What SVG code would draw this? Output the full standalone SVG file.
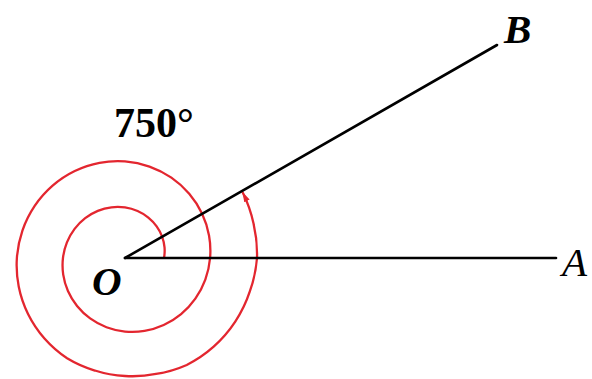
<svg xmlns="http://www.w3.org/2000/svg" width="592" height="379" viewBox="0 0 592 379">
<style>
.ray{stroke:#000;stroke-width:2.6;fill:none;stroke-linecap:round}
.spiral{stroke:#e3262f;stroke-width:2.3;fill:none;stroke-linejoin:round}
.lbl{font-family:"Liberation Serif","Times New Roman",serif;font-style:italic;font-weight:bold;font-size:41px;fill:#000}
.ang{font-family:"Liberation Serif","Times New Roman",serif;font-weight:bold;font-size:42px;fill:#000}
</style>
<defs>
<marker id="arr" markerUnits="userSpaceOnUse" markerWidth="12" markerHeight="8" refX="10" refY="3" orient="auto">
<path d="M0,0 L10,3 L0,6 z" fill="#e3262f"/>
</marker>
</defs>
<rect width="592" height="379" fill="#fff"/>
<g id="spiral">
<path class="spiral" marker-end="url(#arr)" d="M164,258 A40 40 0 0 0 164.53,247.41 A41.88 41.88 0 0 0 162.1,236.58 A43.8 43.8 0 0 0 156.65,226.35 A45.72 45.72 0 0 0 148.34,217.57 A47.64 47.64 0 0 0 137.58,211.06 A49.56 49.56 0 0 0 125,207.48 A51.48 51.48 0 0 0 111.43,207.35 A53.4 53.4 0 0 0 97.82,210.92 A55.32 55.32 0 0 0 85.2,218.2 A57.24 57.24 0 0 0 74.6,228.9 A59.16 59.16 0 0 0 66.93,242.44 A61.08 61.08 0 0 0 62.96,258 A63 63 0 0 0 63.22,274.55 A64.92 64.92 0 0 0 67.95,290.94 A66.84 66.84 0 0 0 77.06,305.94 A68.76 68.76 0 0 0 90.14,318.38 A70.68 70.68 0 0 0 106.46,327.2 A72.6 72.6 0 0 0 125,331.56 A74.52 74.52 0 0 0 144.53,330.91 A76.44 76.44 0 0 0 163.7,325.03 A78.36 78.36 0 0 0 181.09,314.09 A80.28 80.28 0 0 0 195.35,298.62 A82.2 82.2 0 0 0 205.32,279.52 A84.12 84.12 0 0 0 210.08,258 A86.04 86.04 0 0 0 209.03,235.48 A87.96 87.96 0 0 0 202,213.54 A89.88 89.88 0 0 0 189.23,193.77 A91.8 91.8 0 0 0 171.38,177.67 A93.72 93.72 0 0 0 149.5,166.55 A95.64 95.64 0 0 0 125,161.4 A97.56 97.56 0 0 0 99.5,162.84 A99.48 99.48 0 0 0 74.78,171.02 A101.4 101.4 0 0 0 52.62,185.62 A103.32 103.32 0 0 0 34.69,205.86 A105.24 105.24 0 0 0 22.42,230.52 A107.16 107.16 0 0 0 16.88,258 A109.08 109.08 0 0 0 18.71,286.48 A111 111 0 0 0 28.04,313.98 A112.92 112.92 0 0 0 44.48,338.52 A114.84 114.84 0 0 0 67.1,358.28 A116 116 0 0 0 94.85,370.53 A117.2 117.2 0 0 0 125,376 A119 119 0 0 0 156.06,373.91 A121.7 121.7 0 0 0 186.74,364.93 A124.4 124.4 0 0 0 213.67,346.67 A126.4 126.4 0 0 0 235.26,321.66 A128.3 128.3 0 0 0 249.83,291.45 A130.5 130.5 0 0 0 257,258 A132.5 132.5 0 0 0 253.54,223.56 A134 134 0 0 0 242.5,192"/>
</g>
<g id="connectors">
<line id="OA" class="ray" x1="125" y1="258" x2="556" y2="258"/>
<line id="OB" class="ray" x1="125" y1="258" x2="497" y2="45"/>
</g>
<g id="O"><text class="lbl" x="92" y="295">O</text></g>
<g id="A"><text class="lbl" x="562" y="276" style="font-weight:normal">A</text></g>
<g id="B"><text class="lbl" x="504" y="43">B</text></g>
<g id="angle"><text class="ang" x="114" y="137">750°</text></g>
</svg>
